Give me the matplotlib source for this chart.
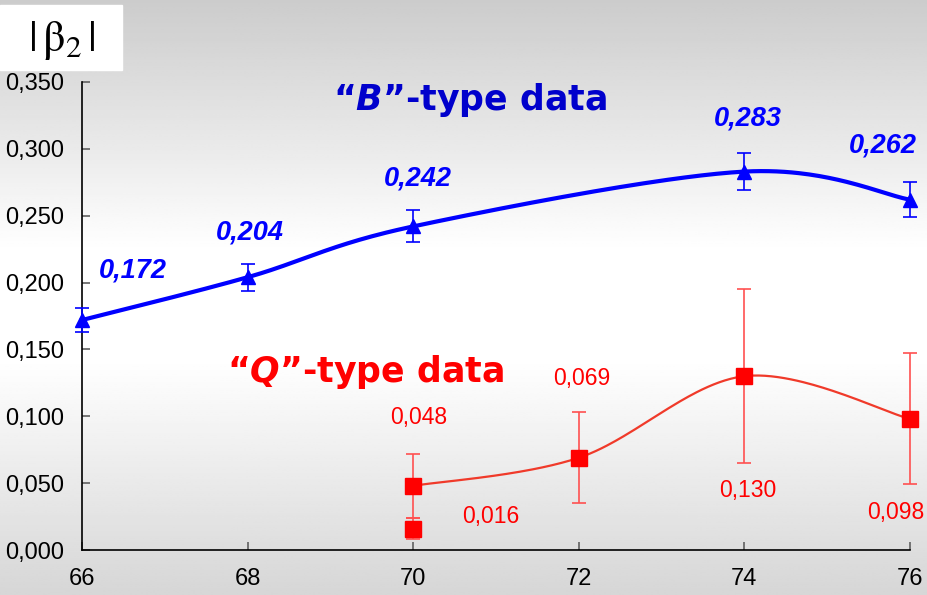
import numpy as np
import matplotlib.pyplot as plt

# B-type |beta2| values
b_n = [66, 68, 70, 74, 76]
b_beta = [0.172, 0.204, 0.242, 0.283, 0.262]
b_err = [0.009, 0.010, 0.012, 0.014, 0.013]
b_labels = ["0,172", "0,204", "0,242", "0,283", "0,262"]

# Q-type |beta2| values (the smooth curve skips the 0,016 point)
q_n = [70, 70, 72, 74, 76]
q_beta = [0.048, 0.016, 0.069, 0.130, 0.098]
q_err = [0.024, 0.008, 0.034, 0.065, 0.049]
q_labels = ["0,048", "0,016", "0,069", "0,130", "0,098"]
q_curve = [0, 2, 3, 4]

x_ticks = [66, 68, 70, 72, 74, 76]
y_ticks = [0.0, 0.05, 0.10, 0.15, 0.20, 0.25, 0.30, 0.35]

BLUE = "#0000ff"
RED = "#ff0000"


def smooth(xs, ys, n=60):
    # Bezier smoothing through the points, like spreadsheet "smoothed line"
    p = np.column_stack([xs, ys]).astype(float)
    out = []
    for i in range(len(p) - 1):
        p0 = p[max(i - 1, 0)]
        p1 = p[i]
        p2 = p[i + 1]
        p3 = p[min(i + 2, len(p) - 1)]
        c1 = p1 + (p2 - p0) / 6.0
        c2 = p2 - (p3 - p1) / 6.0
        t = np.linspace(0, 1, n)[:, None]
        seg = ((1 - t) ** 3) * p1 + 3 * ((1 - t) ** 2) * t * c1 \
            + 3 * (1 - t) * t ** 2 * c2 + t ** 3 * p2
        out.append(seg)
    out = np.vstack(out)
    return out[:, 0], out[:, 1]


plt.rcParams['font.family'] = ['Liberation Sans', 'DejaVu Sans']
# italic letters inside the bold series names
plt.rcParams['mathtext.fontset'] = 'custom'
plt.rcParams['mathtext.it'] = 'DejaVu Sans:bold:italic'
plt.rcParams['mathtext.rm'] = 'DejaVu Sans:bold'

fig = plt.figure(figsize=(9.27, 5.95), dpi=100)

# grey-white-grey vertical gradient behind everything
bg = fig.add_axes([0, 0, 1, 1], zorder=-10)
rows = np.linspace(0, 595, 300)
shade = np.interp(rows, [0, 250, 360, 595], [0.80, 1.0, 1.0, 0.84])
bg.imshow(np.repeat(shade[:, None], 2, axis=1), cmap='gray', vmin=0, vmax=1,
          aspect='auto', extent=[0, 1, 0, 1], origin='upper')
bg.axis('off')

ax = fig.add_axes([0.0885, 0.0756, 0.8932, 0.7866])
ax.patch.set_alpha(0)

# smoothed curves
bx, by = smooth(b_n, b_beta)
ax.plot(bx, by, color=BLUE, lw=3, zorder=3, clip_on=False)
qx, qy = smooth([q_n[i] for i in q_curve], [q_beta[i] for i in q_curve])
ax.plot(qx, qy, color="#f03a2a", lw=1.6, zorder=3, clip_on=False)

# points with error bars
ax.errorbar(b_n, b_beta, yerr=b_err, fmt='^', color=BLUE, ms=10,
            ecolor=BLUE, elinewidth=1.2, capsize=5, capthick=1.2,
            zorder=4, clip_on=False)
ax.errorbar(q_n, q_beta, yerr=q_err, fmt='s', color=RED, ms=11,
            ecolor="#ff5050", elinewidth=1.2, capsize=5, capthick=1.2,
            zorder=4, clip_on=False)

# value labels
b_off = [(51, 50), (2, 45), (5, 48), (3, 53), (-27, 54)]
for x, y, s, off in zip(b_n, b_beta, b_labels, b_off):
    ax.annotate(s, (x, y), xytext=off, textcoords='offset pixels',
                ha='center', va='center', color=BLUE, fontsize=19.5,
                fontweight='bold', fontstyle='italic')
q_off = [(5, 68), (78, 12), (3, 79), (3, -114), (-14, -94)]
for x, y, s, off in zip(q_n, q_beta, q_labels, q_off):
    ax.annotate(s, (x, y), xytext=off, textcoords='offset pixels',
                ha='center', va='center', color=RED, fontsize=16.5)

# series names
ax.text(70.69, 0.3366, r"“$\mathit{B}$”-type data", color="#0000cc",
        fontsize=25, fontweight='bold', ha='center', va='center',
        family='DejaVu Sans')
ax.text(69.42, 0.133, r"“$\mathit{Q}$”-type data", color=RED,
        fontsize=25, fontweight='bold', ha='center', va='center',
        family='DejaVu Sans')

ax.set_xlim(66, 76)
ax.set_ylim(0, 0.35)
ax.set_xticks(x_ticks)
ax.set_xticklabels([str(v) for v in x_ticks])
ax.set_yticks(y_ticks)
ax.set_yticklabels([("%.3f" % v).replace(".", ",") for v in y_ticks])
ax.tick_params(direction='in', length=6, color='#606060', labelsize=17,
               width=1.2)
ax.tick_params(axis='x', pad=13)
ax.tick_params(axis='y', pad=13)
for side in ('top', 'right'):
    ax.spines[side].set_visible(False)
for side in ('left', 'bottom'):
    ax.spines[side].set_linewidth(1.2)

# |beta2| axis label in a white box
fig.patches.append(plt.Rectangle((0, 1 - 70 / 595), 122 / 927, 65 / 595,
                                 transform=fig.transFigure, color='white',
                                 zorder=-5))
fig.text(62 / 927, 1 - 40 / 595, r"$|\,\mathrm{\beta}_2\,|$", fontsize=32,
         ha='center', va='center', math_fontfamily='stix')

fig.savefig("out.png", dpi=100)
